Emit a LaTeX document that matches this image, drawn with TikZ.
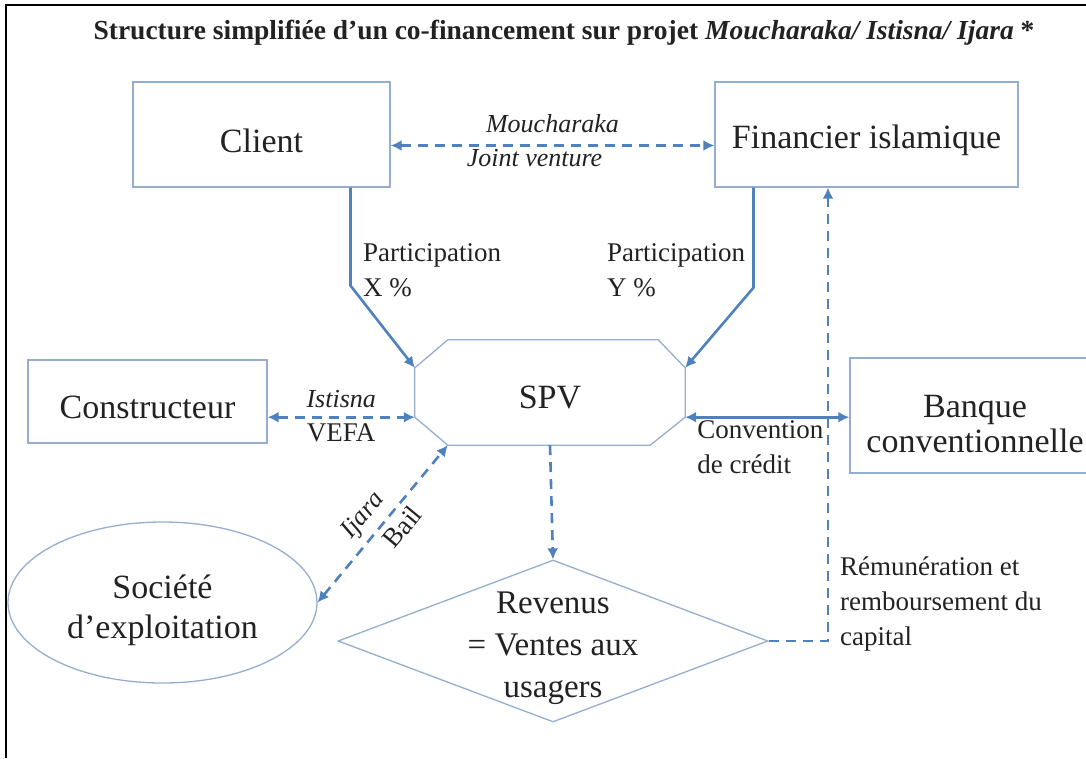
\documentclass[tikz,border=0pt]{standalone}
\usepackage{fontspec}
\setmainfont{Liberation Serif}
\usetikzlibrary{arrows.meta,positioning,shapes.geometric,calc}
\definecolor{bleu}{HTML}{4F81BD}
\definecolor{cadre}{HTML}{95AECF}
\definecolor{texte}{HTML}{222222}

\begin{document}
\begin{tikzpicture}[x=1pt, y=-1pt, font=\fontsize{34}{40}\selectfont, text=texte,
  boite/.style={draw=cadre, line width=1.3pt, inner sep=0pt},
  txt/.style={align=center, yshift=-#1},
  txt/.default=6pt,
  lien/.style={draw=bleu, line width=2.6pt},
  tiret/.style={lien, dash pattern=on 10pt off 7pt},
  etiq/.style={font=\fontsize{27}{35}\selectfont, inner sep=2pt},
  etiqi/.style={etiq, font=\fontsize{26}{30}\selectfont\itshape},
  >={Latex[length=11pt,width=11pt]}]
\useasboundingbox (0,0) rectangle (1086,758);
\draw[line width=2.5pt] (6,758) -- (6,5) -- (1086,5);
\node[font=\fontsize{27.5}{30}\selectfont\bfseries] (titre) at (564,33)
  {Structure simplifiée d’un co-financement sur projet \textit{Moucharaka/ Istisna/ Ijara} *};

% les acteurs
\node[boite, minimum width=257pt, minimum height=105pt, label={[txt]center:Client}] (client) at (261.5,134.5) {};
\node[boite, minimum width=303pt, minimum height=105pt, label={[txt]center:Financier islamique}] (fin) at (866.5,134.5) {};
\node[boite, minimum width=239pt, minimum height=83pt, label={[txt]center:Constructeur}] (constr) at (147.5,401.5) {};
\node[boite, minimum width=250pt, minimum height=115pt,
  label={[txt=9pt, font=\fontsize{34}{35}\selectfont]center:Banque\\conventionnelle}] (banque) at (975,415.5) {};
\node[boite, ellipse, minimum width=309pt, minimum height=161pt,
  label={[txt=8pt]center:Société\\d’exploitation}] (soc) at (162.5,602.5) {};
\node[boite, diamond, aspect=2.65, minimum width=430pt, minimum height=162pt,
  label={[txt=7pt, font=\fontsize{33}{42}\selectfont]center:Revenus\\= Ventes aux\\usagers}] (rev) at (553,641) {};

% SPV (octogone)
\node[minimum width=270pt, minimum height=105pt, inner sep=0pt, label={[txt=5pt]center:SPV}] (spv) at (550,392.5) {};
\coordinate (spv-hg) at ($(spv.north west)+(0,28)$);
\coordinate (spv-bg) at ($(spv.south west)+(0,-28)$);
\coordinate (spv-hd) at ($(spv.north east)+(0,28)$);
\coordinate (spv-bd) at ($(spv.south east)+(0,-28)$);
\coordinate (spv-sg) at ($(spv.south west)+(33,0)$);
\draw[cadre, line width=1.3pt] ($(spv.north west)+(33,0)$) -- ($(spv.north east)+(-27,0)$) -- (spv-hd)
  -- (spv-bd) -- ($(spv.south east)+(-35,0)$) -- (spv-sg) -- (spv-bg) -- (spv-hg) -- cycle;

% flux
\draw[tiret, <->] ($(client.east)+(0,11)$) -- ($(fin.west)+(0,11)$)
  node[midway, above=9pt, etiqi] {Moucharaka}
  node[midway, below, etiqi, xshift=-18pt] {Joint venture};
\draw[lien, ->] ($(client.south)+(89,0)$) -- ++(0,98) -- (spv-hg);
\draw[lien, ->] ($(fin.south)+(-113,0)$) -- ++(0,100) -- (spv-hd);
\node[etiq, anchor=west, align=left] (partx) at (361,270) {Participation\\X \%};
\node[etiq, anchor=west, align=left] (party) at (605,270) {Participation\\Y \%};
\draw[tiret, <->] (constr.east |- spv-bg) -- (spv-bg)
  node[midway, above=6pt, etiqi] {Istisna}
  node[midway, below=3pt, etiq] {VEFA};
\draw[lien, <->] (spv-bd) -- (banque.west |- spv-bd);
\node[etiq, anchor=north west, align=left] (conv) at ($(spv-bd)+(10,1)$) {Convention\\de crédit};
\draw[tiret, <->] (soc.east) -- (spv-sg)
  node[pos=0.47, sloped, above=5pt, etiqi] {Ijara}
  node[pos=0.55, sloped, below=4pt, etiq] {Bail};
\draw[tiret, ->] (spv.south) -- (rev.north);
\coordinate (coin) at (828,641);
\draw[tiret, ->] (rev.east) -- (coin) -- (coin |- fin.south);
\node[etiq, anchor=west, align=left] (remu) at ($(coin)+(10,-37)$) {Rémunération et\\remboursement du\\capital};
\end{tikzpicture}
\end{document}
